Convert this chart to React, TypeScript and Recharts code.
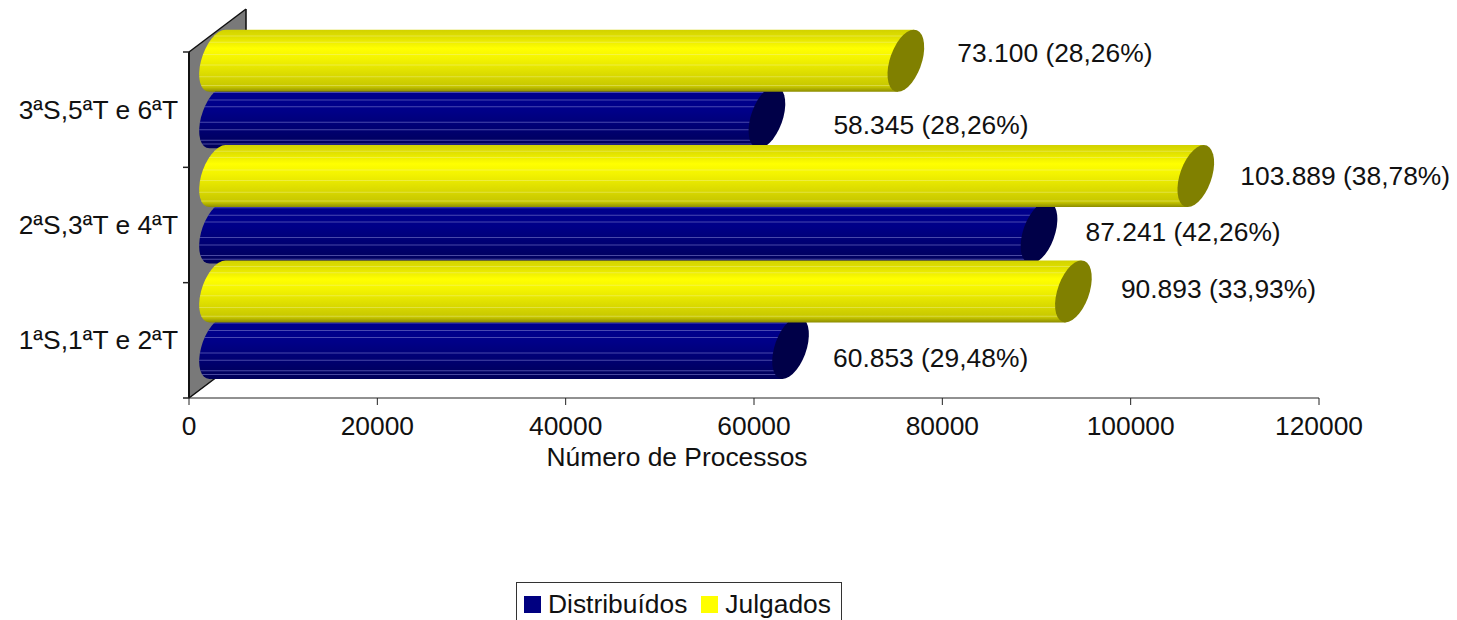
import { Bar, BarChart, LabelList, Legend, XAxis, YAxis } from 'recharts'

const categories = ['3ªS,5ªT e 6ªT', '2ªS,3ªT e 4ªT', '1ªS,1ªT e 2ªT']
const distribuidos = [58345, 87241, 60853]
const julgados = [73100, 103889, 90893]
const distribuidosLabels = ['58.345 (28,26%)', '87.241 (42,26%)', '60.853 (29,48%)']
const julgadosLabels = ['73.100 (28,26%)', '103.889 (38,78%)', '90.893 (33,93%)']
const xTicks = [0, 20000, 40000, 60000, 80000, 100000, 120000]

const data = categories.map((name, i) => ({
  name,
  distribuidos: distribuidos[i],
  julgados: julgados[i],
  distribuidosLabel: distribuidosLabels[i],
  julgadosLabel: julgadosLabels[i],
}))

const FONT = '"Liberation Sans", Arial, sans-serif'
const FONT_SIZE = 26.4
const W = 1457
const H = 620
const LEFT = 189
const RIGHT = 1319
const TOP = 52
const BOTTOM = 398
const BAND = (BOTTOM - TOP) / categories.length
const X_AXIS_H = 60
// 3D look: the back wall is shifted by this much, bars sit half way in
const DEPTH_X = 57
const DEPTH_Y = 43
const RX = 16.5
const RY = 31
const SKEW = -14.5

const yellowStops = [
  [0, '#d2d200'],
  [0.12, '#e0e000'],
  [0.3, '#ffff00'],
  [0.48, '#f2f200'],
  [0.75, '#d8d800'],
  [0.92, '#c6c600'],
  [1, '#8c8c00'],
]
const blueStops = [
  [0, '#00008e'],
  [0.4, '#000088'],
  [0.7, '#000070'],
  [1, '#000058'],
]

function Cylinder(props: any) {
  const { x, y, width, height, band, shift, gradient, cap, streak, streaks, streakOpacity } = props
  const cy = y + height * band + shift
  const x0 = x + DEPTH_X / 2
  const x1 = x0 + width
  return (
    <g transform={`translate(0 ${cy}) skewX(${SKEW})`}>
      <path
        d={`M${x0},${-RY} A${RX},${RY} 0 0 0 ${x0},${RY} L${x1},${RY} L${x1},${-RY} Z`}
        fill={`url(#${gradient})`}
      />
      {streaks.map((f: number) => {
        const v = RY * (2 * f - 1)
        const left = x0 - RX * Math.sqrt(1 - (v / RY) ** 2)
        return (
          <line key={f} x1={left} x2={x1} y1={v} y2={v} stroke={streak} strokeWidth={1} opacity={streakOpacity} />
        )
      })}
      <ellipse cx={x1} cy={0} rx={RX} ry={RY} fill={cap} />
    </g>
  )
}

const julgadosStreaks = [0.1, 0.2, 0.4, 0.57, 0.76, 0.9]
const distribuidosStreaks = [0.1, 0.22, 0.33, 0.58, 0.7, 0.87, 0.93]

// label offsets from the end of the bar, the original has them placed by hand
const julgadosOffsets = [
  [80, -28],
  [73, -20],
  [76, -22],
]
const distribuidosOffsets = [
  [95, -13],
  [75, -22],
  [71, -11],
]

function valueLabel(offsets: number[][], band: number) {
  return (props: any) => {
    const { x, y, width, height, index, value } = props
    const [dx, dy] = offsets[index]
    return (
      <text
        x={x + width + dx}
        y={y + height * band + dy}
        dominantBaseline="central"
        fontFamily={FONT}
        fontSize={FONT_SIZE}
        fill="#111"
      >
        {value}
      </text>
    )
  }
}

function CategoryTick({ x, y, payload, index }: any) {
  return (
    <g>
      <text x={x - 11} y={y} textAnchor="end" dominantBaseline="central" fontFamily={FONT} fontSize={FONT_SIZE} fill="#111">
        {payload.value}
      </text>
      <line x1={LEFT - 6} x2={LEFT} y1={y - BAND / 2} y2={y - BAND / 2} stroke="#222" strokeWidth={1.5} />
      {index === categories.length - 1 && (
        <line x1={LEFT - 6} x2={LEFT} y1={y + BAND / 2} y2={y + BAND / 2} stroke="#222" strokeWidth={1.5} />
      )}
    </g>
  )
}

function LegendBox({ payload }: any) {
  return (
    <div
      style={{
        boxSizing: 'border-box',
        width: 326,
        height: 60,
        border: '1.5px solid #333',
        background: '#fff',
        display: 'flex',
        alignItems: 'flex-start',
        paddingLeft: 7,
        paddingTop: 5,
        fontFamily: FONT,
        fontSize: FONT_SIZE,
        lineHeight: '32px',
        color: '#111',
      }}
    >
      {(payload ?? []).map((p: any) => (
        <span key={p.value} style={{ display: 'flex', alignItems: 'center', marginRight: 14 }}>
          <span style={{ width: 17, height: 17, background: p.color, marginRight: 7 }} />
          {p.value}
        </span>
      ))}
    </div>
  )
}

export default function App() {
  const backLeft = LEFT + DEPTH_X
  const wall = `${LEFT},${TOP} ${backLeft},${TOP - DEPTH_Y} ${backLeft},${BOTTOM - DEPTH_Y} ${LEFT},${BOTTOM}`
  return (
    <div style={{ position: 'absolute', left: 0, top: 0, width: W, height: H, overflow: 'hidden' }}>
      <BarChart
        width={W}
        height={H}
        data={data}
        layout="vertical"
        barCategoryGap={0}
        margin={{ top: TOP, right: W - RIGHT, bottom: H - BOTTOM - X_AXIS_H, left: 0 }}
      >
        <defs>
          <linearGradient id="yellowBar" x1="0" y1="0" x2="0" y2="1">
            {yellowStops.map(([o, c]) => (
              <stop key={o} offset={o} stopColor={c as string} />
            ))}
          </linearGradient>
          <linearGradient id="blueBar" x1="0" y1="0" x2="0" y2="1">
            {blueStops.map(([o, c]) => (
              <stop key={o} offset={o} stopColor={c as string} />
            ))}
          </linearGradient>
        </defs>
        <polygon points={wall} fill="#808080" />
        <line x1={LEFT} y1={TOP} x2={backLeft} y2={TOP - DEPTH_Y} stroke="#111" strokeWidth={1.5} />
        <line x1={backLeft} y1={TOP - DEPTH_Y} x2={backLeft} y2={BOTTOM - DEPTH_Y} stroke="#111" strokeWidth={1.5} />
        <line x1={LEFT} y1={BOTTOM} x2={backLeft} y2={BOTTOM - DEPTH_Y} stroke="#111" strokeWidth={1.5} />
        <XAxis
          type="number"
          domain={[0, 120000]}
          ticks={xTicks}
          height={X_AXIS_H}
          tickSize={7}
          tickMargin={11}
          interval={0}
          allowDecimals={false}
          stroke="#222"
          tick={{ fontFamily: FONT, fontSize: FONT_SIZE, fill: '#111' }}
          label={{
            value: 'Número de Processos',
            position: 'bottom',
            dx: -77,
            dy: -16,
            style: { fontFamily: FONT, fontSize: FONT_SIZE, fill: '#111' },
          }}
        />
        <YAxis
          yAxisId="distribuidos"
          type="category"
          dataKey="name"
          width={LEFT}
          tickSize={0}
          tickMargin={0}
          interval={0}
          axisLine={{ stroke: '#111', strokeWidth: 2 }}
          tick={<CategoryTick />}
        />
        <YAxis yAxisId="julgados" type="category" dataKey="name" hide />
        <Bar
          yAxisId="distribuidos"
          dataKey="distribuidos"
          name="Distribuídos"
          fill="#000080"
          isAnimationActive={false}
          shape={(p: any) => (
            <Cylinder
              {...p}
              band={0.75}
              shift={-21}
              gradient="blueBar"
              cap="#000048"
              streak="#7a7acc"
              streakOpacity={0.6}
              streaks={distribuidosStreaks}
            />
          )}
        >
          <LabelList dataKey="distribuidosLabel" content={valueLabel(distribuidosOffsets, 0.75)} />
        </Bar>
        <Bar
          yAxisId="julgados"
          dataKey="julgados"
          name="Julgados"
          fill="#ffff00"
          isAnimationActive={false}
          shape={(p: any) => (
            <Cylinder
              {...p}
              band={0.25}
              shift={-20}
              gradient="yellowBar"
              cap="#808000"
              streak="#f4f4a0"
              streakOpacity={0.4}
              streaks={julgadosStreaks}
            />
          )}
        >
          <LabelList dataKey="julgadosLabel" content={valueLabel(julgadosOffsets, 0.25)} />
        </Bar>
        {/* wall shows faintly through the bars */}
        <polygon points={wall} fill="#000" opacity={0.05} />
        <line x1={backLeft} y1={TOP - DEPTH_Y} x2={backLeft} y2={BOTTOM - DEPTH_Y} stroke="#111" strokeWidth={1} opacity={0.2} />
        <line x1={LEFT} y1={BOTTOM} x2={backLeft} y2={BOTTOM - DEPTH_Y} stroke="#111" strokeWidth={1} opacity={0.3} />
        <Legend
          verticalAlign="middle"
          align="center"
          content={<LegendBox />}
          wrapperStyle={{ left: 516, top: 582, width: 326, height: 60 }}
        />
      </BarChart>
    </div>
  )
}
